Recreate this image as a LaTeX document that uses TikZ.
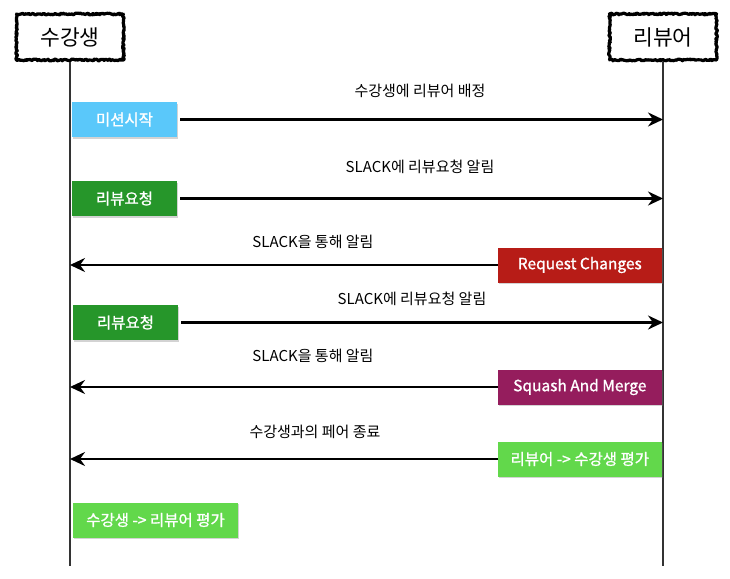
\documentclass[tikz,border=0pt]{standalone}
\usepackage{fontspec}
\setmainfont{Noto Sans CJK KR}
\newfontfamily\boxfont[FakeBold=1.2]{Noto Sans CJK KR}
\usetikzlibrary{arrows.meta,shadows,decorations.pathmorphing}

\definecolor{missionblue}{HTML}{5AC8FA}
\definecolor{reqgreen}{HTML}{26962A}
\definecolor{changered}{HTML}{B71C17}
\definecolor{mergepurple}{HTML}{951D5D}
\definecolor{evalgreen}{HTML}{62D84B}
\definecolor{lifegray}{HTML}{333333}

\tikzset{
  actor/.style={draw=black, line width=3.2pt, line join=round, decorate,
    decoration={random steps, segment length=1.2pt, amplitude=0.9pt},
    minimum width=107pt, minimum height=46pt, font=\fontsize{21.5}{24}\selectfont},
  stepbox/.style={minimum height=35pt, text=white, inner sep=0pt,
    font=\boxfont\fontsize{15.5}{17}\selectfont,
    drop shadow={opacity=0.35, shadow xshift=1pt, shadow yshift=-1.5pt}},
  msg/.style={line width=2.6pt, -{Stealth[length=15pt, width=14pt, inset=5pt]}},
  msgback/.style={line width=2.6pt, {Stealth[length=15pt, width=14pt, inset=5pt]}-},
  msglabel/.style={font=\fontsize{15}{17}\selectfont},
  life/.style={lifegray, line width=1.3pt}
}

\begin{document}
\begin{tikzpicture}[x=1pt, y=-1pt]
  \useasboundingbox (0, 0) rectangle (730, 578);

  % actors
  \node[actor] (stu) at (70, 37) {수강생};
  \node[actor] (rev) at (663, 37) {리뷰어};
  \coordinate (stuend) at (70, 566);
  \coordinate (revend) at (663, 566);
  \draw[life] (stu.south) -- (stuend);
  \draw[life] (rev.south) -- (revend);

  % mission start
  \node[stepbox, fill=missionblue, minimum width=105pt] (start) at (124.5, 119.5) {미션시작};
  \draw[msg] (start.east) ++(3, 0) -- (start.east -| rev);
  \node[msglabel] (assign) at (420, 91) {수강생에 리뷰어 배정};

  % review request
  \node[stepbox, fill=reqgreen, minimum width=105pt] (reqa) at (124.5, 198.5) {리뷰요청};
  \draw[msg] (reqa.east) ++(3, 0) -- (reqa.east -| rev);
  \node[msglabel] (slacka) at (420, 167) {SLACK에 리뷰요청 알림};

  % request changes
  \node[stepbox, fill=changered, minimum width=164pt, anchor=east] (change) at (662, 265) {Request Changes};
  \draw[msgback] (change.west -| stu) -- (change.west);
  \node[msglabel] (notea) at (313, 242) {SLACK을 통해 알림};

  % review request again
  \node[stepbox, fill=reqgreen, minimum width=105pt] (reqb) at (125.5, 322.5) {리뷰요청};
  \draw[msg] (reqb.east) ++(3, 0) -- (reqb.east -| rev);
  \node[msglabel] (slackb) at (412, 299) {SLACK에 리뷰요청 알림};

  % squash and merge
  \node[stepbox, fill=mergepurple, minimum width=164pt, anchor=east] (merge) at (662, 387) {Squash And Merge};
  \draw[msgback] (merge.west -| stu) -- (merge.west);
  \node[msglabel] (noteb) at (313, 356) {SLACK을 통해 알림};

  % evaluations
  \node[stepbox, fill=evalgreen, minimum width=164pt, anchor=east] (reveval) at (662, 459) {리뷰어 -> 수강생 평가};
  \draw[msgback] (reveval.west -| stu) -- (reveval.west);
  \node[msglabel] (pairend) at (315, 432) {수강생과의 페어 종료};

  \node[stepbox, fill=evalgreen, minimum width=165pt] (stueval) at (155.5, 520) {수강생 -> 리뷰어 평가};

\end{tikzpicture}
\end{document}
